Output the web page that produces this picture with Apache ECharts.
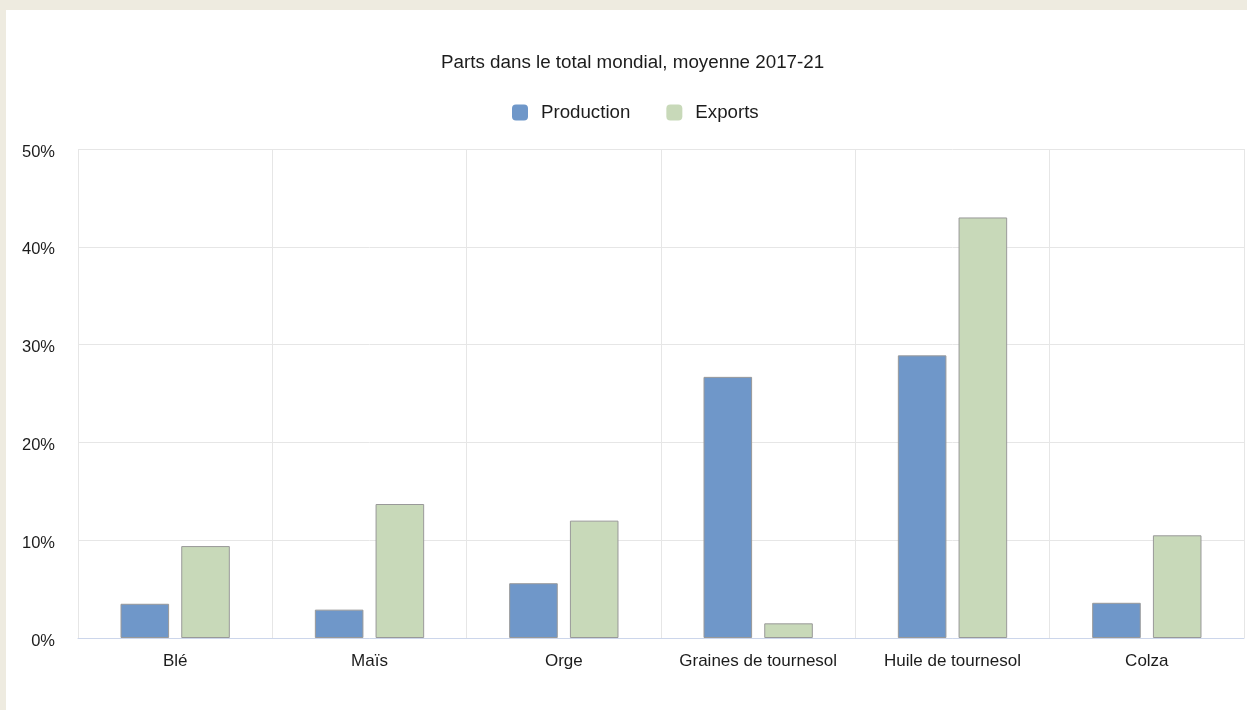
<!DOCTYPE html>
<html><head><meta charset="utf-8">
<script src="https://cdn.jsdelivr.net/npm/echarts@6/dist/echarts.min.js"></script>
<style>
html,body{margin:0;padding:0;width:1247px;height:710px;background:#eeebe0;overflow:hidden}
#c{position:absolute;left:6px;top:10px;width:1241px;height:700px;background:#fff}
</style></head><body><div id="c"></div>
<script>
const categories = ["Blé", "Maïs", "Orge", "Graines de tournesol", "Huile de tournesol", "Colza"];
const production = [3.5, 2.9, 5.6, 26.7, 28.9, 3.6];
const exportsData = [9.4, 13.7, 12.0, 1.5, 43.0, 10.5];
const titleText = "Parts dans le total mondial, moyenne 2017-21";
const seriesNames = ["Production", "Exports"];

const chart = echarts.init(document.getElementById('c'), null, {renderer: 'canvas'});
const font = 'Liberation Sans, Arial, sans-serif';
const txt = '#1c1c1c';
chart.setOption({
  animation: false,
  backgroundColor: '#ffffff',
  textStyle: {fontFamily: font},
  title: {text: titleText, left: 430, top: 38,
    textStyle: {fontFamily: font, fontSize: 18.8, fontWeight: 'normal', color: txt}},
  legend: {top: 88, left: 501, itemWidth: 16, itemHeight: 16, itemGap: 36,
    icon: 'roundRect',
    itemStyle: {borderWidth: 0},
    textStyle: {fontFamily: font, fontSize: 18.7, color: txt, padding: [0,0,0,8]},
    data: seriesNames},
  grid: {left: 72, right: 3, top: 139, bottom: 72, containLabel: false},
  xAxis: {type: 'category', data: categories,
    axisLine: {lineStyle: {color: '#ccd6eb', width: 1}},
    axisTick: {show: false},
    splitLine: {show: true, interval: 0, lineStyle: {color: '#e6e6e6', width: 1}},
    axisLabel: {interval: 0, fontFamily: font, fontSize: 17, color: txt, margin: 15}},
  yAxis: {type: 'value', min: 0, max: 50, interval: 10,
    axisLine: {show: false}, axisTick: {show: false},
    splitLine: {lineStyle: {color: '#e6e6e6', width: 1}},
    axisLabel: {formatter: function (v) { return '{v|' + v + '%}'; }, margin: 23,
      rich: {v: {fontFamily: font, fontSize: 16.5, color: txt, padding: [6,0,0,0]}}}},
  series: [
    {name: seriesNames[0], type: 'bar', data: production, barWidth: '25%', barGap: '25%',
      itemStyle: {color: '#6f97c9', borderColor: '#999999', borderWidth: 1}},
    {name: seriesNames[1], type: 'bar', data: exportsData, barWidth: '25%',
      itemStyle: {color: '#c8d9b9', borderColor: '#999999', borderWidth: 1}}
  ]
});
</script></body></html>
